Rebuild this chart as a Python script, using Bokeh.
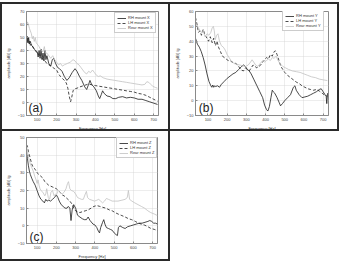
from bokeh.plotting import figure
from bokeh.models import Label, Legend, LegendItem, Spacer, FixedTicker, Range1d
from bokeh.layouts import column, row
from bokeh.embed import file_html
from bokeh.resources import INLINE

FONT = "Liberation Sans"
DARK = "#1c1c1c"
GRAY = "#c2c2c2"

x_ticks = [100, 200, 300, 400, 500, 600, 700]

# ---------------- panel (a): X direction ----------------
a_rh_f = [45, 48, 52, 56, 60, 65, 70, 78, 85, 92, 100, 105, 110, 115, 120, 125, 130, 135, 140, 145, 150, 160, 170, 178, 185, 195, 205, 215, 228, 240, 253, 265, 280, 295, 305, 318, 330, 345, 355, 365, 372, 380, 392, 405, 415, 422, 430, 437, 445, 460, 475, 490, 505, 520, 540, 560, 580, 600, 620, 640, 660, 680, 700, 720]
a_rh_v = [49, 51, 46, 50, 45, 47, 44, 43, 41, 40, 39, 35, 40, 34, 41, 33, 38, 32, 40, 33, 36, 30, 28, 33, 34, 30, 27, 26, 24, 20, 17, 19, 23, 26, 24, 20, 17, 12, 10, 14, 17, 14, 12, 9, 5, 3, 6, 9, 7, 5, 4.5, 3, 3, 4, 4.5, 3.5, 4, 3.5, 2.5, 2.5, 1.5, 0.5, -0.5, -1.5]

a_lh_f = [45, 50, 55, 60, 65, 70, 80, 90, 100, 110, 120, 130, 140, 150, 160, 170, 180, 190, 200, 210, 220, 230, 240, 250, 258, 265, 272, 278, 285, 292, 305, 320, 340, 360, 370, 385, 400, 420, 440, 460, 480, 500, 520, 540, 560, 580, 600, 620, 640, 660, 680, 700, 720]
a_lh_v = [48, 50, 45, 47, 44, 45, 42, 40, 38, 37, 35, 33, 32, 30, 29, 28, 27, 26, 25, 22, 20, 18.5, 17, 15, 11, 5, 0.5, 4, 9, 10.5, 11, 12, 13, 14, 14, 13.5, 13, 12.5, 12, 11.5, 11, 10.5, 10, 9.5, 9, 8.5, 8, 7, 6.5, 5.5, 4, 2.5, 1]

a_re_f = [45, 50, 55, 60, 65, 70, 75, 80, 85, 90, 95, 100, 110, 120, 130, 137, 142, 150, 160, 170, 180, 190, 200, 210, 220, 230, 240, 255, 270, 285, 295, 305, 315, 325, 335, 345, 355, 365, 375, 385, 395, 405, 415, 425, 440, 460, 480, 500, 520, 540, 560, 580, 600, 620, 640, 655, 665, 675, 685, 695, 710, 720]
a_re_v = [58, 62, 60, 57, 55, 53, 49, 51, 47, 50, 46, 45, 43, 40, 39, 43, 38, 38, 36, 34, 36, 33, 31, 29, 30, 28, 29, 30, 31, 33, 32, 30, 29, 27, 25, 23, 22, 24, 23, 25, 23, 21, 20, 20.5, 19, 18, 17.5, 17, 16.5, 16, 15.5, 15, 14.5, 14, 13.5, 14, 16, 15.5, 14, 12.5, 11.5, 11]

# ---------------- panel (b): Y direction ----------------
b_rh_f = [35, 45, 55, 65, 75, 85, 95, 105, 115, 120, 125, 130, 135, 140, 150, 160, 170, 185, 200, 215, 230, 245, 260, 275, 285, 295, 305, 315, 325, 340, 355, 370, 385, 395, 405, 412, 420, 428, 435, 440, 448, 460, 470, 478, 488, 500, 515, 530, 545, 553, 560, 575, 590, 605, 620, 635, 650, 665, 680, 690, 700, 710, 716, 719, 723]
b_rh_v = [42, 38, 36, 33, 29, 24, 18, 13, 10, 9, 10.5, 9, 10, 9.5, 10, 9, 11, 13, 15, 16.5, 18, 19, 21, 23, 24, 23, 21, 20, 18, 14, 10, 6, 2, -3, -6, -7, -4, 2, 7, 6, 5, 2, -1, -3.5, -2, 0, 2, 4, 9, 10, 7, 4, 2, 2.5, 3, 4, 5, 6, 7.5, 8, 6, 4, 3, -2, 5]

b_lh_f = [35, 42, 50, 58, 66, 75, 85, 95, 103, 112, 122, 130, 139, 147, 155, 165, 175, 185, 195, 205, 215, 225, 235, 245, 255, 265, 275, 285, 295, 305, 315, 325, 335, 345, 355, 365, 375, 385, 395, 405, 415, 425, 435, 445, 452, 460, 470, 480, 490, 500, 515, 530, 545, 560, 575, 590, 605, 620, 635, 650, 665, 680, 695, 710, 722]
b_lh_v = [56, 52, 46, 47, 44, 48, 44, 42, 40, 43, 39, 42, 37, 40, 36, 33, 30, 29, 28, 27, 27, 26, 25.5, 25, 24, 22, 20.5, 20, 22, 21, 20, 22, 24, 23, 22, 23, 24, 26, 27.5, 29, 28, 31, 30, 33, 33.5, 31, 27, 23, 21, 19, 17, 15.5, 14, 12.5, 11.5, 10, 9, 8, 7.5, 7, 7.5, 6.5, 5, 3.5, 3]

b_re_f = [35, 45, 55, 65, 75, 85, 95, 105, 115, 122, 128, 133, 138, 145, 152, 160, 170, 180, 190, 200, 210, 220, 235, 250, 265, 280, 295, 310, 322, 330, 338, 348, 360, 372, 385, 395, 405, 415, 425, 435, 445, 455, 465, 475, 490, 505, 520, 540, 560, 580, 600, 620, 640, 660, 680, 700, 722]
b_re_v = [52, 50, 48, 46, 47, 43, 45, 44, 46, 49, 50, 47, 41, 44, 45, 40, 37, 36, 34, 31, 29, 27, 25, 24.5, 24, 23.5, 23, 24, 26, 27.5, 26, 24, 23, 25, 27, 26, 27, 28, 27, 29, 28.5, 30, 27, 25, 23, 22, 21, 20, 19.5, 19, 18, 17, 16, 15.5, 14.5, 14, 13.5]

# ---------------- panel (c): Z direction ----------------
c_rh_f = [45, 50, 55, 60, 65, 72, 80, 90, 100, 110, 120, 130, 138, 145, 152, 160, 170, 180, 190, 200, 208, 215, 225, 235, 245, 255, 262, 270, 276, 282, 290, 300, 310, 322, 335, 345, 356, 365, 375, 390, 400, 410, 418, 424, 430, 440, 446, 452, 460, 470, 480, 490, 500, 510, 517, 522, 530, 545, 557, 570, 585, 600, 615, 630, 645, 660, 675, 685, 695, 705, 715, 725]
c_rh_v = [42, 38, 34, 31, 29, 27, 25, 23, 20, 17, 15, 14, 13, 15, 14, 14.5, 14, 15, 16, 17.5, 16, 14, 12, 11, 10, 10, 11, 10, 3, 9, 12, 10, 6, 5, 4, 3.5, 3.5, 5, 3, 1, 0.5, -1, -3, -4, -1, 2, 3.5, 1, -1, -1.5, -2, -2.5, -4, -5, -5.5, -1, 0, -1, -1.5, -0.5, 0, 0.5, 1, 1.5, 1.5, 2, 2.5, 3, 2.5, 1.5, 1.5, 1]

c_lh_f = [45, 50, 55, 60, 65, 72, 80, 90, 100, 110, 120, 130, 140, 150, 160, 170, 180, 190, 200, 210, 220, 230, 240, 250, 260, 270, 280, 290, 300, 310, 322, 335, 350, 365, 380, 395, 410, 425, 440, 457, 475, 490, 505, 524, 540, 557, 575, 591, 610, 624, 640, 658, 675, 691, 708, 725]
c_lh_v = [46, 45, 42, 40, 38, 35, 33, 32, 30, 29, 28, 27, 25, 24, 23, 22.5, 22, 21.5, 21, 20, 19, 17.5, 17, 16, 15, 14, 12.5, 10, 8.5, 8, 7.5, 8, 8.5, 9, 10, 11, 11.5, 11, 10.5, 10, 9, 8.5, 7.5, 6.5, 5.8, 5, 4, 3.5, 2.5, 1.6, 1, 0.4, -0.5, -1.5, -2, -2.7]

c_re_f = [45, 50, 55, 60, 65, 72, 80, 88, 95, 100, 105, 110, 115, 120, 130, 140, 145, 150, 158, 165, 172, 180, 188, 195, 200, 210, 220, 230, 240, 250, 258, 263, 270, 278, 290, 300, 310, 320, 330, 340, 350, 356, 362, 372, 385, 398, 410, 420, 430, 440, 450, 460, 470, 480, 490, 505, 520, 540, 557, 568, 574, 580, 592, 607, 624, 641, 658, 675, 690, 708, 725]
c_re_v = [45, 42, 39, 37, 35, 33, 31, 28, 26, 24, 26, 23, 21, 20, 19, 17, 18, 21, 16, 15, 19, 20, 17, 18, 17.5, 20, 19, 18, 19, 21, 24, 25, 21, 20, 19.5, 18, 16, 15.5, 15, 15, 18, 19.5, 16, 15, 14.5, 14, 14.5, 15, 14, 13, 14, 15.5, 15, 14.5, 14, 14, 14, 14.5, 15, 16, 20, 15, 14, 13, 12, 11, 10, 8.5, 7.5, 6.7, 5.8]

def make_panel(width, height, xr, yr, mb, series, labels, tag, tag_xy, leg_loc, css):
    p = figure(width=width, height=height, output_backend="svg", toolbar_location=None,
               x_range=Range1d(*xr), y_range=Range1d(*yr),
               min_border_left=mb[0], min_border_right=mb[1],
               min_border_top=mb[2], min_border_bottom=mb[3],
               background_fill_color="white", border_fill_color="white")
    p.styles = css
    p.outline_line_color = "#8a8a8a"
    p.outline_line_width = 1
    p.xaxis.ticker = FixedTicker(ticks=x_ticks)
    p.yaxis.ticker = FixedTicker(ticks=list(range(int(yr[0]), int(yr[1]) + 1, 10)))
    for ax in (p.xaxis[0], p.yaxis[0]):
        ax.axis_line_color = "#8a8a8a"
        ax.major_tick_line_color = "#8a8a8a"
        ax.major_tick_in = 2
        ax.major_tick_out = 0
        ax.minor_tick_line_color = None
        ax.major_label_text_font = FONT
        ax.major_label_text_font_size = "4px"
        ax.major_label_text_color = "#444444"
        ax.axis_label_text_font = FONT
        ax.axis_label_text_font_size = "4px"
        ax.axis_label_text_font_style = "normal"
        ax.axis_label_text_color = "#333333"
        ax.major_label_standoff = 2
    p.xaxis.axis_label = "Frequency [Hz]"
    p.xaxis.axis_label_standoff = 2
    p.yaxis.axis_label = "amplitude [dB] /g"
    p.yaxis.axis_label_standoff = 4
    p.grid.grid_line_color = "#d2d2d2"
    p.grid.grid_line_dash = "1 1"
    p.grid.grid_line_width = 0.8

    styles = [dict(color=DARK, dash="solid"), dict(color=DARK, dash="3 2"), dict(color=GRAY, dash="solid")]
    items = []
    for (f, v), lab, st in zip(series, labels, styles):
        r = p.line(f, v, line_color=st["color"], line_width=0.8, line_dash=st["dash"])
        items.append(LegendItem(label=lab, renderers=[r]))
    leg = Legend(items=items, location=leg_loc,
                 label_text_font=FONT, label_text_font_size="4px", label_text_color="#333333",
                 label_height=5, glyph_height=4, glyph_width=9, label_standoff=2,
                 spacing=0, padding=2, margin=0,
                 border_line_color="#999999", border_line_width=0.8,
                 background_fill_color="white", background_fill_alpha=1)
    p.add_layout(leg)
    p.add_layout(Label(x=tag_xy[0], y=tag_xy[1], text=tag, text_font=FONT,
                       text_font_size="12px", text_color="#222222", text_baseline="bottom"))
    return p

B = "2px solid #2a2a2a"
pa = make_panel(170, 129, (45, 725), (-10, 70), (21, 14, 7, 16),
                [(a_rh_f, a_rh_v), (a_lh_f, a_lh_v), (a_re_f, a_re_v)],
                ["RH mount X", "LH mount X", "Rear mount X"], "(a)", (55, -9.5), (88, 82),
                {"border-top": B, "border-left": B, "border-right": B, "border-bottom": B})
pb = make_panel(169, 129, (35, 728), (-10, 60), (25, 11, 3, 16),
                [(b_rh_f, b_rh_v), (b_lh_f, b_lh_v), (b_re_f, b_re_v)],
                ["RH mount Y", "LH mount Y", "Rear mount Y"], "(b)", (52, -9.5), (87, 84),
                {"border-top": B, "border-right": B, "border-bottom": B})
pc = make_panel(170, 130, (45, 725), (-10, 50), (19, 15, 6, 14),
                [(c_rh_f, c_rh_v), (c_lh_f, c_lh_v), (c_re_f, c_re_v)],
                ["RH mount Z", "LH mount Z", "Rear mount Z"], "(c)", (60, -10), (90, 85),
                {"border-left": B, "border-right": B, "border-bottom": B})

layout = column(row(pa, pb), row(pc, Spacer(width=171, height=130)),
                styles={"padding-top": "2px"}, spacing=0)
open("out.html", "w").write(file_html(layout, INLINE))
